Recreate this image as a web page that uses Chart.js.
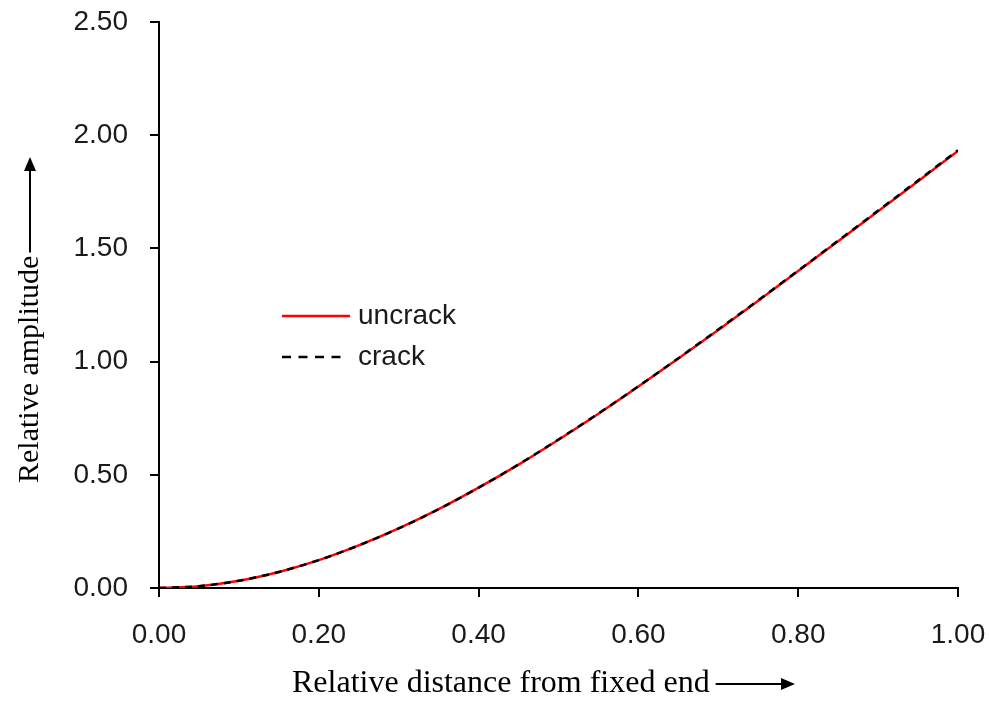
<!DOCTYPE html>
<html>
<head>
<meta charset="utf-8">
<script src="https://cdn.jsdelivr.net/npm/chart.js@4.4.1/dist/chart.umd.min.js"></script>
<style>
  html, body { margin: 0; padding: 0; background: #ffffff; }
  #wrap { width: 989px; height: 702px; }
</style>
</head>
<body>
<div id="wrap"><canvas id="chart" width="989" height="702"></canvas></div>
<script>
// Posizioni lungo la trave (distanza relativa dall'incastro)
const distanze = [0, 0.05, 0.1, 0.15, 0.2, 0.25, 0.3, 0.35, 0.4, 0.45, 0.5,
  0.55, 0.6, 0.65, 0.7, 0.75, 0.8, 0.85, 0.9, 0.95, 1.0];

// Ampiezza relativa, trave integra
const ampiezzaIntegra = [0, 0.008, 0.032, 0.071, 0.123, 0.188, 0.263, 0.348,
  0.443, 0.545, 0.655, 0.770, 0.890, 1.014, 1.140, 1.269, 1.400, 1.532,
  1.664, 1.797, 1.930];

// Ampiezza relativa, trave fessurata
const ampiezzaFessurata = [0, 0.008, 0.032, 0.071, 0.123, 0.188, 0.263, 0.348,
  0.443, 0.546, 0.656, 0.771, 0.891, 1.015, 1.142, 1.271, 1.402, 1.534,
  1.667, 1.800, 1.934];

// Etichette degli assi
const tickX = [0, 0.2, 0.4, 0.6, 0.8, 1.0];
const tickY = [0, 0.5, 1.0, 1.5, 2.0, 2.5];

const titoloX = "Relative distance from fixed end";
const titoloY = "Relative amplitude";

const fontTick = "Liberation Sans, Arial, sans-serif";
const fontTitolo = "Liberation Serif, Times New Roman, serif";

function punti(valori) {
  return distanze.map((d, i) => ({ x: d, y: valori[i] }));
}

// Freccia piena (linea + punta)
function freccia(ctx, x1, y1, x2, y2) {
  const ang = Math.atan2(y2 - y1, x2 - x1);
  const lung = 14, mezza = 6;
  ctx.save();
  ctx.strokeStyle = "#000";
  ctx.fillStyle = "#000";
  ctx.lineWidth = 2;
  ctx.beginPath();
  ctx.moveTo(x1, y1);
  ctx.lineTo(x2 - lung * Math.cos(ang), y2 - lung * Math.sin(ang));
  ctx.stroke();
  ctx.beginPath();
  ctx.moveTo(x2, y2);
  ctx.lineTo(x2 - lung * Math.cos(ang) + mezza * Math.sin(ang),
             y2 - lung * Math.sin(ang) - mezza * Math.cos(ang));
  ctx.lineTo(x2 - lung * Math.cos(ang) - mezza * Math.sin(ang),
             y2 - lung * Math.sin(ang) + mezza * Math.cos(ang));
  ctx.closePath();
  ctx.fill();
  ctx.restore();
}

// Titoli degli assi con frecce
const titoliAssi = {
  id: "titoliAssi",
  afterDraw(chart) {
    const ctx = chart.ctx;
    ctx.save();
    ctx.fillStyle = "#000";
    ctx.font = "32px " + fontTitolo;
    ctx.textAlign = "left";
    ctx.textBaseline = "middle";

    // titolo asse x
    const xT = 292, yT = 684;
    ctx.fillText(titoloX, xT, yT);
    const wx = ctx.measureText(titoloX).width;
    freccia(ctx, xT + wx + 6, yT, 795, yT);

    // titolo asse y (ruotato)
    ctx.font = "30px " + fontTitolo;
    const wy = ctx.measureText(titoloY).width;
    ctx.save();
    ctx.translate(30, 483);
    ctx.rotate(-Math.PI / 2);
    ctx.fillText(titoloY, 0, 0);
    ctx.restore();
    freccia(ctx, 30, 483 - wy - 3, 30, 157);
    ctx.restore();
  }
};

// Legenda interna all'area del grafico
const legendaInterna = {
  id: "legendaInterna",
  afterDraw(chart) {
    const ctx = chart.ctx;
    const x0 = 282, x1 = 350, xt = 358;
    const righe = [316, 357];
    ctx.save();
    ctx.font = "28px " + fontTick;
    ctx.textBaseline = "middle";
    ctx.textAlign = "left";
    chart.data.datasets.forEach((ds, i) => {
      const y = righe[i];
      const tratteggio = ds.borderDash && ds.borderDash.length;
      ctx.strokeStyle = ds.borderColor;
      ctx.lineWidth = 2.5;
      ctx.setLineDash(tratteggio ? [9, 7.5] : []);
      ctx.beginPath();
      ctx.moveTo(x0, y);
      ctx.lineTo(tratteggio ? x1 - 4 : x1, y);
      ctx.stroke();
      ctx.setLineDash([]);
      ctx.fillStyle = "#1a1a1a";
      ctx.fillText(ds.label, xt, y);
    });
    ctx.restore();
  }
};

const ctx = document.getElementById("chart").getContext("2d");

new Chart(ctx, {
  type: "line",
  data: {
    datasets: [
      {
        label: "uncrack",
        data: punti(ampiezzaIntegra),
        borderColor: "#ff0000",
        borderWidth: 2.5,
        pointRadius: 0,
        cubicInterpolationMode: "monotone",
        fill: false,
        order: 2
      },
      {
        label: "crack",
        data: punti(ampiezzaFessurata),
        borderColor: "#000000",
        borderWidth: 2.5,
        borderDash: [7, 6],
        pointRadius: 0,
        cubicInterpolationMode: "monotone",
        fill: false,
        order: 1
      }
    ]
  },
  options: {
    responsive: false,
    animation: false,
    layout: { padding: { top: 22, right: 31, left: 0, bottom: 0 } },
    plugins: {
      legend: { display: false },
      tooltip: { enabled: false }
    },
    scales: {
      x: {
        type: "linear",
        min: 0,
        max: 1,
        afterBuildTicks(scale) {
          scale.ticks = tickX.map(v => ({ value: v }));
        },
        afterFit(scale) {
          scale.height = 114;
          scale.paddingLeft = 0;
          scale.paddingRight = 0;
        },
        border: { display: true, color: "#000", width: 2 },
        grid: { drawOnChartArea: false, drawTicks: true, tickLength: 9, color: "#000", lineWidth: 2 },
        ticks: {
          padding: 21,
          color: "#1a1a1a",
          font: { family: fontTick, size: 28 },
          maxRotation: 0,
          callback: v => v.toFixed(2)
        }
      },
      y: {
        type: "linear",
        min: 0,
        max: 2.5,
        afterBuildTicks(scale) {
          scale.ticks = tickY.map(v => ({ value: v }));
        },
        afterFit(scale) {
          scale.width = 159;
          scale.paddingTop = 0;
          scale.paddingBottom = 0;
        },
        border: { display: true, color: "#000", width: 2 },
        grid: { drawOnChartArea: false, drawTicks: true, tickLength: 9, color: "#000", lineWidth: 2 },
        ticks: {
          padding: 22,
          color: "#1a1a1a",
          font: { family: fontTick, size: 28 },
          callback: v => v.toFixed(2)
        }
      }
    }
  },
  plugins: [titoliAssi, legendaInterna]
});
</script>
</body>
</html>
